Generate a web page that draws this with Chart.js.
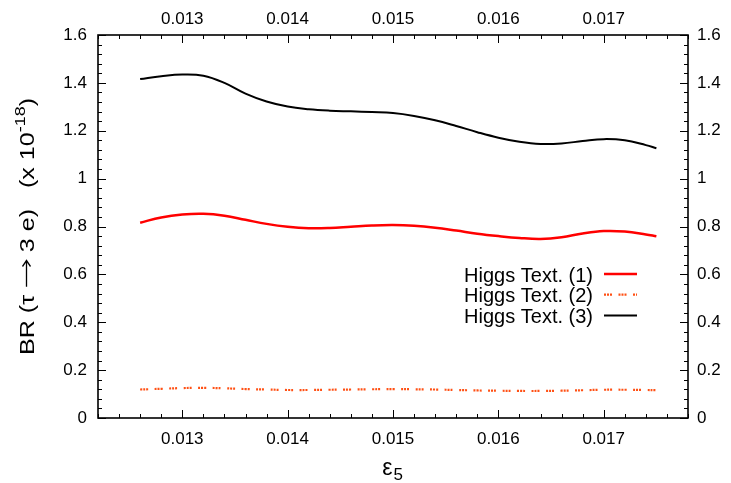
<!DOCTYPE html>
<html>
<head>
<meta charset="utf-8">
<script src="https://cdn.jsdelivr.net/npm/chart.js@4.4.0/dist/chart.umd.min.js"></script>
<style>
body { margin: 0; background: #fff; }
</style>
</head>
<body>
<canvas id="myChart" width="731" height="483"></canvas>
<script>
// epsilon_5 values (x) and BR values in units of 1e-18
var eps5 = [0.0126, 0.0128, 0.0130, 0.0132, 0.0134, 0.0136, 0.0138, 0.0140, 0.0142, 0.0144,
            0.0146, 0.0148, 0.0150, 0.0152, 0.0154, 0.0156, 0.0158, 0.0160, 0.0162, 0.0164,
            0.0166, 0.0168, 0.0170, 0.0172, 0.0174, 0.0175];
var higgs1 = [0.816, 0.838, 0.850, 0.853, 0.845, 0.828, 0.811, 0.799, 0.793, 0.794,
              0.799, 0.804, 0.806, 0.803, 0.795, 0.783, 0.770, 0.760, 0.752, 0.748,
              0.755, 0.771, 0.781, 0.779, 0.767, 0.759];
var higgs2 = [0.119, 0.122, 0.125, 0.126, 0.124, 0.121, 0.119, 0.117, 0.117, 0.118,
              0.119, 0.120, 0.121, 0.120, 0.119, 0.117, 0.115, 0.114, 0.113, 0.113,
              0.114, 0.116, 0.118, 0.118, 0.117, 0.116];
var higgs3 = [1.416, 1.428, 1.435, 1.430, 1.400, 1.355, 1.322, 1.301, 1.290, 1.284,
              1.281, 1.278, 1.274, 1.262, 1.244, 1.220, 1.194, 1.171, 1.154, 1.145,
              1.147, 1.157, 1.165, 1.160, 1.140, 1.127];
var seriesNames = ['Higgs Text. (1)', 'Higgs Text. (2)', 'Higgs Text. (3)'];
var xTicks = [0.013, 0.014, 0.015, 0.016, 0.017];
var yTicks = [0, 0.2, 0.4, 0.6, 0.8, 1, 1.2, 1.4, 1.6];

function pts(ys) {
  return eps5.map(function (x, i) { return { x: x, y: ys[i] }; });
}

var FAM = '"Liberation Sans", Arial, sans-serif';
var tickFont = { family: FAM, size: 17 };

function fixTicks(list) {
  return function (scale) { scale.ticks = list.map(function (v) { return { value: v }; }); };
}
function xLabel(v) { return v.toFixed(3); }
function yLabel(v) { return String(Math.round(v * 10) / 10); }

// gnuplot style frame with inside ticks, custom legend, axis titles
var gnuplotLook = {
  id: 'gnuplotLook',
  afterDatasetsDraw: function (chart) {
    var c = chart.ctx, a = chart.chartArea;
    var xs = chart.scales.x, ys = chart.scales.y;
    c.save();
    c.strokeStyle = '#000';
    c.lineWidth = 1;
    c.beginPath();
    for (var i = 0; i <= 28; i++) {
      var v = 0.0122 + i * 0.0002;
      var px = Math.round(xs.getPixelForValue(v)) + 0.5;
      var major = Math.abs(v * 1000 - Math.round(v * 1000)) < 1e-6;
      var len = major ? 8 : 4;
      c.moveTo(px, a.bottom); c.lineTo(px, a.bottom - len);
      c.moveTo(px, a.top); c.lineTo(px, a.top + len);
    }
    for (var j = 0; j <= 40; j++) {
      var py = Math.round(ys.getPixelForValue(j * 0.04)) + 0.5;
      var l2 = (j % 5 === 0) ? 8 : 4;
      c.moveTo(a.left, py); c.lineTo(a.left + l2, py);
      c.moveTo(a.right, py); c.lineTo(a.right - l2, py);
    }
    c.stroke();
    c.lineWidth = 1.6;
    c.strokeRect(a.left, a.top, a.right - a.left, a.bottom - a.top);

    // legend: text right aligned, then sample line
    c.font = '20px ' + FAM;
    c.fillStyle = '#000';
    c.textAlign = 'right';
    c.textBaseline = 'alphabetic';
    chart.data.datasets.forEach(function (ds, k) {
      var ly = 274 + k * 20.7;
      c.fillText(ds.label, 593, ly + 7.5);
      c.beginPath();
      c.strokeStyle = ds.borderColor;
      c.lineWidth = ds.borderWidth;
      c.setLineDash(ds.borderDash || []);
      c.moveTo(604, ly); c.lineTo(637, ly);
      c.stroke();
      c.setLineDash([]);
    });

    // y title, rotated: BR (tau -> 3 e)   (x 10^-18), stretched to ~257px
    var cy = (a.top + a.bottom) / 2;
    var big = '21px ' + FAM, small = '15px ' + FAM;
    var p1 = 'BR (\u03c4 ', p2 = ' 3 e)   (x 10', sup = '-18', tail = ')';
    var arrowW = 24;
    c.font = big;
    var w1 = c.measureText(p1).width, w2 = c.measureText(p2).width, w4 = c.measureText(tail).width;
    c.font = small;
    var w3 = c.measureText(sup).width;
    var total = w1 + arrowW + w2 + w3 + w4;
    c.translate(34, cy);
    c.rotate(-Math.PI / 2);
    c.scale(257 / total, 1);
    c.textAlign = 'left';
    var x0 = -total / 2;
    c.font = big;
    c.fillText(p1, x0, 0);
    var ax = x0 + w1, ay = -7.5;
    c.strokeStyle = '#000';
    c.lineWidth = 1.3;
    c.beginPath();
    c.moveTo(ax + 1, ay); c.lineTo(ax + arrowW - 1, ay);
    c.moveTo(ax + arrowW - 6, ay - 4); c.lineTo(ax + arrowW - 1, ay); c.lineTo(ax + arrowW - 6, ay + 4);
    c.stroke();
    c.fillText(p2, ax + arrowW, 0);
    c.font = small;
    c.fillText(sup, ax + arrowW + w2, -9);
    c.font = big;
    c.fillText(tail, ax + arrowW + w2 + w3, 0);
    c.setTransform(1, 0, 0, 1, 0, 0);

    // x title epsilon_5
    var cx = (a.left + a.right) / 2;
    c.font = '23px ' + FAM;
    var we = c.measureText('\u03b5').width;
    c.font = '17px ' + FAM;
    var w5 = c.measureText('5').width;
    var sx = cx - (we + w5) / 2 - 1;
    c.textAlign = 'left';
    c.font = '23px ' + FAM;
    c.fillText('\u03b5', sx, 475);
    c.font = '17px ' + FAM;
    c.fillText('5', sx + we + 1, 480);
    c.restore();
  }
};

var ctx = document.getElementById('myChart').getContext('2d');
var chartOne = new Chart(ctx, {
  type: 'line',
  data: {
    datasets: [{
      label: seriesNames[0],
      data: pts(higgs1),
      borderColor: '#ff0000',
      borderWidth: 2.5,
      xAxisID: 'x', yAxisID: 'y'
    }, {
      label: seriesNames[1],
      data: pts(higgs2),
      borderColor: '#ff5014',
      borderWidth: 2.2,
      borderDash: [2, 1, 2, 1, 2, 6.5],
      borderCapStyle: 'butt',
      xAxisID: 'x', yAxisID: 'y'
    }, {
      label: seriesNames[2],
      data: pts(higgs3),
      borderColor: '#000000',
      borderWidth: 2,
      xAxisID: 'x', yAxisID: 'y'
    }]
  },
  options: {
    responsive: false,
    animation: false,
    layout: { padding: 0 },
    elements: { point: { radius: 0 }, line: { tension: 0.4, fill: false } },
    plugins: { legend: { display: false }, tooltip: { enabled: false } },
    scales: {
      x: {
        type: 'linear', position: 'bottom', min: 0.0122, max: 0.0178,
        afterBuildTicks: fixTicks(xTicks),
        afterFit: function (s) { s.height = 65; },
        grid: { display: false, drawTicks: false }, border: { display: false },
        ticks: { callback: xLabel, font: tickFont, color: '#000', padding: 11, maxRotation: 0, autoSkip: false }
      },
      x2: {
        type: 'linear', position: 'top', min: 0.0122, max: 0.0178,
        afterBuildTicks: fixTicks(xTicks),
        afterFit: function (s) { s.height = 35; },
        grid: { display: false, drawTicks: false }, border: { display: false },
        ticks: { callback: xLabel, font: tickFont, color: '#000', padding: 5, maxRotation: 0, autoSkip: false }
      },
      y: {
        type: 'linear', position: 'left', min: 0, max: 1.6,
        afterBuildTicks: fixTicks(yTicks),
        afterFit: function (s) { s.width = 98; },
        grid: { display: false, drawTicks: false }, border: { display: false },
        ticks: { callback: yLabel, font: tickFont, color: '#000', padding: 11, autoSkip: false }
      },
      y2: {
        type: 'linear', position: 'right', min: 0, max: 1.6,
        afterBuildTicks: fixTicks(yTicks),
        afterFit: function (s) { s.width = 43; },
        grid: { display: false, drawTicks: false }, border: { display: false },
        ticks: { callback: yLabel, font: tickFont, color: '#000', padding: 9, autoSkip: false }
      }
    }
  },
  plugins: [gnuplotLook]
});
</script>
</body>
</html>
